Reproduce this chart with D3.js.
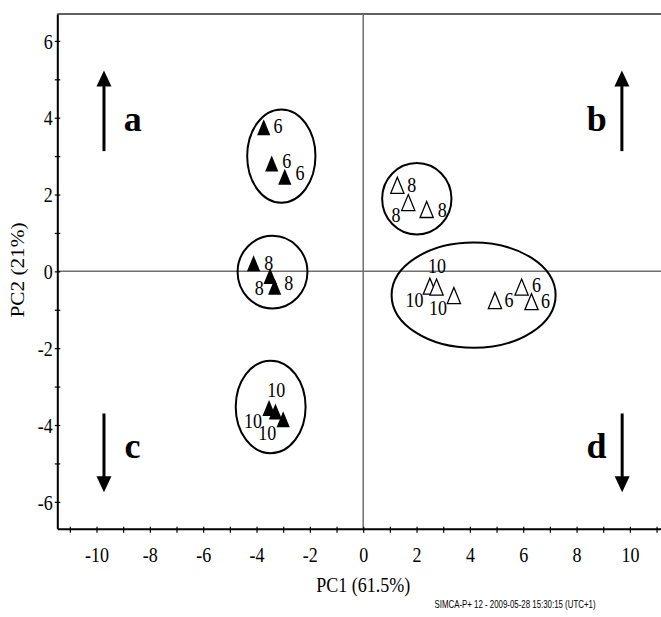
<!DOCTYPE html>
<html>
<head>
<meta charset="utf-8">
<script src="https://cdn.jsdelivr.net/npm/d3@7"></script>
<style>
html,body{margin:0;padding:0;background:#fff;}
svg{display:block;}
</style>
</head>
<body>
<svg id="chart" width="661" height="617"></svg>
<script>
// ---------- data ----------
// filled triangles (first series)
const filledX = [-3.73, -3.43, -2.94, -4.11, -3.49, -3.32, -3.53, -3.29, -3.00];
const filledY = [3.75, 2.81, 2.46, 0.21, -0.12, -0.40, -3.56, -3.65, -3.85];
// open triangles (second series)
const openX = [1.28, 1.69, 2.38, 2.50, 2.75, 3.40, 4.94, 5.94, 6.31];
const openY = [2.24, 1.79, 1.61, -0.385, -0.41, -0.63, -0.76, -0.41, -0.79];
// point labels (text and where they sit, in data units)
const pointLabels = ["6","6","6","8","8","8","10","10","10",
                     "8","8","8","10","10","10","6","6","6"];
const pointLabelX = [-3.19, -2.87, -2.37, -3.54, -3.90, -2.79, -3.26, -4.13, -3.60,
                     1.82, 1.23, 2.96, 2.77, 1.92, 2.80, 5.47, 6.50, 6.84];
const pointLabelY = [3.78, 2.89, 2.56, 0.23, -0.42, -0.31, -3.08, -3.89, -4.20,
                     2.26, 1.48, 1.61, 0.14, -0.73, -0.95, -0.73, -0.35, -0.77];
// group ellipses: centre and radii in data units
const ellipseCX = [-3.07, -3.40, -3.47, 2.01, 4.14];
const ellipseCY = [3.00, -0.02, -3.53, 1.89, -0.62];
const ellipseRX = [1.28, 1.31, 1.31, 1.30, 3.075];
const ellipseRY = [1.215, 0.945, 1.205, 0.93, 1.37];
// direction arrows and their letters
const arrowLetters = ["a", "b", "c", "d"];
const arrowX = [-9.72, 9.70, -9.72, 9.71];
const arrowFromY = [3.13, 3.13, -3.70, -3.70];
const arrowToY = [5.23, 5.23, -5.75, -5.75];
const letterX = [-8.64, 8.76, -8.65, 8.75];
const letterY = [3.65, 3.65, -4.86, -4.86];
// axes
const xDomain = [-11.47, 11.47];
const yDomain = [-6.7, 6.7];
const xTickValues = [-10, -8, -6, -4, -2, 0, 2, 4, 6, 8, 10];
const xMinorTicks = [-11,-10,-9,-8,-7,-6,-5,-4,-3,-2,-1,0,1,2,3,4,5,6,7,8,9,10,11];
const yTickValues = [-6, -4, -2, 0, 2, 4, 6];
const yMinorTicks = [-6,-5,-4,-3,-2,-1,0,1,2,3,4,5,6];
const xTitle = "PC1 (61.5%)";
const yTitle = "PC2 (21%)";
const footer = "SIMCA-P+ 12 - 2009-05-28 15:30:15 (UTC+1)";

// ---------- drawing ----------
const svg = d3.select("#chart");
const plotLeft = 57.3, plotRight = 669.1, plotTop = 14, plotBottom = 528.7;
const SY = 1.18; // vertical stretch of the text
const serif = "'Liberation Serif','Times New Roman',Times,serif";

const x = d3.scaleLinear().domain(xDomain).range([plotLeft, plotRight]);
const y = d3.scaleLinear().domain(yDomain).range([plotBottom, plotTop]);

// top frame line
svg.append("line").attr("x1", plotLeft).attr("x2", plotRight).attr("y1", plotTop).attr("y2", plotTop)
  .attr("stroke", "#606060").attr("stroke-width", 2);

// zero lines
svg.append("line").attr("x1", x(0)).attr("x2", x(0)).attr("y1", plotTop).attr("y2", plotBottom)
  .attr("stroke", "#707070").attr("stroke-width", 1.5);
svg.append("line").attr("x1", plotLeft).attr("x2", plotRight).attr("y1", y(0)).attr("y2", y(0))
  .attr("stroke", "#707070").attr("stroke-width", 1.5);

// x axis
const gx = svg.append("g").attr("transform", `translate(0,${plotBottom})`)
  .call(d3.axisBottom(x).tickValues(xMinorTicks).tickSizeOuter(0)
    .tickFormat(d => xTickValues.includes(d) ? String(d) : ""));
gx.select(".domain").attr("stroke", "#000").attr("stroke-width", 2);
gx.selectAll(".tick line").attr("y1", -2).attr("y2", 4).attr("stroke", "#000").attr("stroke-width", 1.2);
gx.selectAll(".tick text")
  .attr("font-family", serif).attr("font-size", 18).attr("fill", "#000")
  .attr("dy", null).attr("y", 33 / SY).attr("transform", `scale(1,${SY})`);

// y axis
const gy = svg.append("g").attr("transform", `translate(${plotLeft},0)`)
  .call(d3.axisLeft(y).tickValues(yMinorTicks).tickSizeOuter(0)
    .tickFormat(d => yTickValues.includes(d) ? String(d) : ""));
gy.select(".domain").attr("stroke", "#000").attr("stroke-width", 2);
gy.selectAll(".tick line").attr("x1", -2.5).attr("x2", 3).attr("stroke", "#000").attr("stroke-width", 1.2);
gy.selectAll(".tick text")
  .attr("font-family", serif).attr("font-size", 18).attr("fill", "#000")
  .attr("x", -4.5).attr("dy", null).attr("y", 7.2 / SY).attr("transform", `scale(1,${SY})`);

// axis titles
svg.append("text").attr("transform", `translate(${x(0)},592) scale(1,${SY})`)
  .attr("text-anchor", "middle").attr("font-family", serif).attr("font-size", 18)
  .text(xTitle);
svg.append("text").attr("transform", `translate(23.5,270) rotate(-90) scale(${SY},1)`)
  .attr("text-anchor", "middle").attr("font-family", serif).attr("font-size", 18)
  .text(yTitle);

// footer
svg.append("text").attr("transform", `translate(515,607.5) scale(1,${SY})`)
  .attr("text-anchor", "middle")
  .attr("font-family", "'Liberation Sans Narrow','Arial Narrow','Liberation Sans',Arial,sans-serif")
  .attr("font-size", 10).attr("textLength", 161).attr("lengthAdjust", "spacingAndGlyphs")
  .attr("fill", "#000").text(footer);

// ellipses
svg.append("g").selectAll("ellipse").data(ellipseCX).join("ellipse")
  .attr("cx", (d, i) => x(ellipseCX[i]))
  .attr("cy", (d, i) => y(ellipseCY[i]))
  .attr("rx", (d, i) => x(ellipseRX[i]) - x(0))
  .attr("ry", (d, i) => y(0) - y(ellipseRY[i]))
  .attr("fill", "none").attr("stroke", "#000").attr("stroke-width", 2);

// triangles
const tri = "M0,-8L6.6,8L-6.6,8Z";
svg.append("g").selectAll("path").data(openX).join("path")
  .attr("d", tri)
  .attr("transform", (d, i) => `translate(${x(openX[i])},${y(openY[i])})`)
  .attr("fill", "#fff").attr("stroke", "#000").attr("stroke-width", 1.3);
svg.append("g").selectAll("path").data(filledX).join("path")
  .attr("d", tri)
  .attr("transform", (d, i) => `translate(${x(filledX[i])},${y(filledY[i])})`)
  .attr("fill", "#000");

// point labels
svg.append("g").selectAll("g").data(pointLabels).join("g")
  .attr("transform", (d, i) => `translate(${x(pointLabelX[i])},${y(pointLabelY[i])})`)
  .append("text")
  .attr("transform", `scale(1,${SY})`)
  .attr("y", 7.2 / SY)
  .attr("text-anchor", "middle").attr("font-family", serif).attr("font-size", 18)
  .attr("fill", "#000")
  .text(d => d);

// arrows
const ag = svg.append("g");
arrowX.forEach((ax, i) => {
  const x0 = x(ax), yFrom = y(arrowFromY[i]), yTo = y(arrowToY[i]);
  const dir = yTo < yFrom ? -1 : 1;
  const headLen = 16, headHalf = 7.5;
  ag.append("line").attr("x1", x0).attr("x2", x0)
    .attr("y1", yFrom).attr("y2", yTo - dir * headLen + dir * 1)
    .attr("stroke", "#000").attr("stroke-width", 3);
  ag.append("path")
    .attr("d", `M${x0},${yTo}L${x0 - headHalf},${yTo - dir * headLen}L${x0 + headHalf},${yTo - dir * headLen}Z`)
    .attr("fill", "#000");
});

// arrow letters
svg.append("g").selectAll("text").data(arrowLetters).join("text")
  .attr("x", (d, i) => x(letterX[i]))
  .attr("y", (d, i) => y(letterY[i]))
  .attr("text-anchor", "middle").attr("font-family", serif)
  .attr("font-weight", "bold").attr("font-size", 36).attr("fill", "#000")
  .text(d => d);
</script>
</body>
</html>
